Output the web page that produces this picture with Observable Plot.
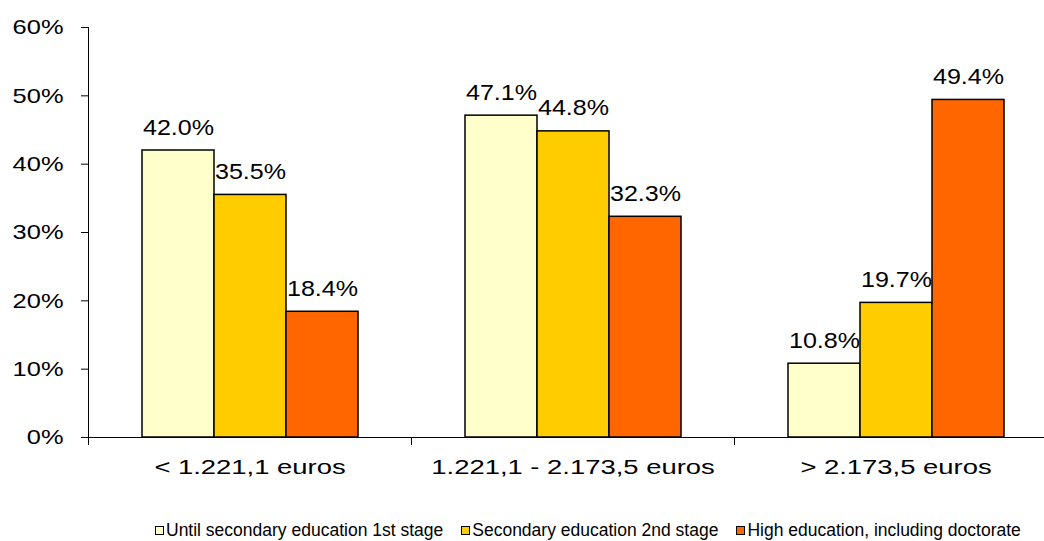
<!DOCTYPE html>
<html>
<head>
<meta charset="utf-8">
<script src="https://cdn.jsdelivr.net/npm/d3@7"></script>
<script src="https://cdn.jsdelivr.net/npm/@observablehq/plot@0.6"></script>
<style>
  html, body { margin: 0; padding: 0; background: #fff; overflow: hidden; }
  body { font-family: "Liberation Sans", Arial, sans-serif; color: #000; }
  #legend { display: flex; align-items: center; margin-left: 155px; padding-top: 40px; font-size: 17.5px; line-height: 20px; white-space: nowrap; height: 20px; }
  .item { display: flex; align-items: center; margin-right: 18px; }
  .sw { width: 7px; height: 7px; border: 1.5px solid #000; margin-right: 2px; }
</style>
</head>
<body>
<div id="chart"></div>
<div id="legend"></div>
<script>
const categories = ["< 1.221,1 euros", "1.221,1 - 2.173,5 euros", "> 2.173,5 euros"];
const series = ["Until secondary education 1st stage", "Secondary education 2nd stage", "High education, including doctorate"];
const colors = ["#FFFFCC", "#FFCC00", "#FF6600"];
const until1stStage = [42.0, 47.1, 10.8];
const secondary2ndStage = [35.5, 44.8, 19.7];
const highEducation = [18.4, 32.3, 49.4];
const yTicks = [0, 10, 20, 30, 40, 50, 60];

const values = [until1stStage, secondary2ndStage, highEducation];
const data = [];
categories.forEach((c, ci) => series.forEach((s, si) => data.push({cat: c, series: s, value: values[si][ci]})));

const width = 1057, marginLeft = 88, marginRight = 0;
const facetW = (width - marginLeft - marginRight) / categories.length;

const chart = Plot.plot({
  width, height: 480,
  marginLeft, marginRight, marginTop: 27, marginBottom: 43,
  style: {fontFamily: "Liberation Sans, Arial, sans-serif", color: "#000", maxWidth: "none", overflow: "visible", background: "#fff"},
  fx: {domain: categories, padding: 0, axis: null, label: null},
  x: {domain: series, paddingInner: 0, paddingOuter: 0.743, axis: null},
  y: {domain: [0, 60], axis: null},
  color: {domain: series, range: colors},
  marks: [
    Plot.barY(data, {fx: "cat", x: "series", y: "value", fill: "series", stroke: "#000", strokeWidth: 1.5}),
    Plot.ruleY([0], {stroke: "#000", strokeWidth: 1}),
    Plot.frame({anchor: "left", facetAnchor: "left", stroke: "#000", strokeWidth: 1}),
    Plot.axisY({ticks: yTicks, tickFormat: d => d + "%", tickSize: 7, tickPadding: 18, fontSize: 21, label: null, stroke: "#000", strokeWidth: 1}),
    Plot.axisFx({anchor: "bottom", text: null, tickSize: 8, dx: -facetW / 2, stroke: "#000", strokeWidth: 1, label: null}),
    Plot.axisFx({anchor: "bottom", tickSize: 0, tickPadding: 22, fontSize: 20, label: null}),
    Plot.text(data, {fx: "cat", x: "series", y: "value", text: d => d.value.toFixed(1) + "%", dy: -23, lineAnchor: "middle", fontSize: 22, fill: "#000"})
  ]
});
document.getElementById("chart").appendChild(chart);

// the reference image is horizontally stretched: widen glyphs to match
function stretch(selector, factor) {
  chart.querySelectorAll(selector).forEach(t => {
    const len = t.getComputedTextLength();
    if (len > 0) {
      t.setAttribute("textLength", (len * factor).toFixed(1));
      t.setAttribute("lengthAdjust", "spacingAndGlyphs");
    }
  });
}
stretch('g[aria-label="y-axis tick label"] text', 1.21);
stretch('g[aria-label="fx-axis tick label"] text', 1.37);
stretch('g[aria-label="text"] text', 1.14);

const legend = document.getElementById("legend");
series.forEach((s, i) => {
  const item = document.createElement("div");
  item.className = "item";
  const sw = document.createElement("div");
  sw.className = "sw";
  sw.style.background = colors[i];
  const t = document.createElement("span");
  t.textContent = s;
  item.appendChild(sw); item.appendChild(t);
  legend.appendChild(item);
});
</script>
</body>
</html>
